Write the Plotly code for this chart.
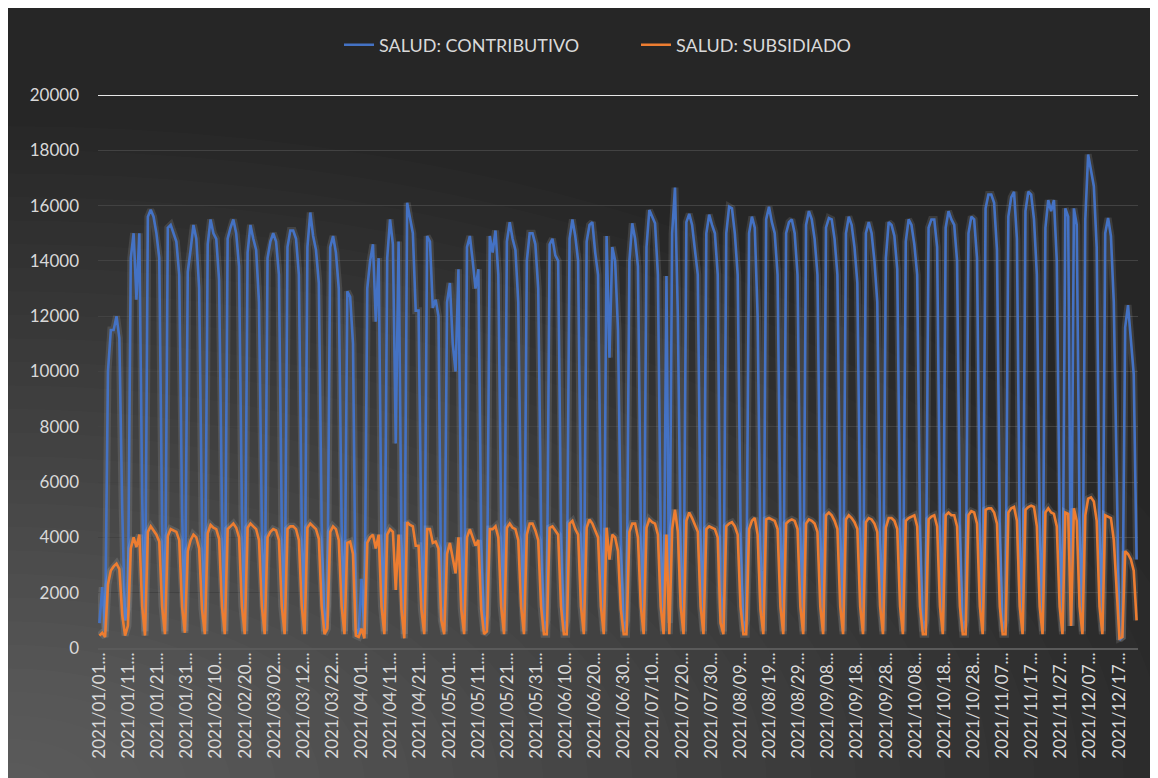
import pandas as pd
import plotly.graph_objects as go

# ---------------- data ----------------
fechas = pd.date_range("2021-01-01", "2021-12-31", freq="D").strftime("%Y/%m/%d").tolist()

contributivo = [
    900, 2200, 600,
    10000, 11500, 11500, 12000, 11200, 5000, 1000,
    1500, 14100, 15000, 12600, 15000, 5500, 600,
    15600, 15850, 15600, 15000, 14100, 4500, 600,
    15200, 15300, 15000, 14700, 13500, 5000, 600,
    13600, 14400, 15300, 14800, 13000, 4500, 600,
    14600, 15500, 15000, 14800, 13300, 5000, 600,
    14800, 15200, 15500, 15000, 13800, 5000, 600,
    14300, 15300, 14800, 14400, 12500, 4500, 600,
    14100, 14700, 15000, 14700, 13500, 4500, 600,
    14500, 15100, 15100, 14800, 13500, 4500, 600,
    14500, 15750, 14900, 14400, 13200, 4500, 600,
    1500, 14500, 14900, 14300, 13000, 4500, 600,
    12900, 12700, 11000, 700, 500, 2500, 500,
    13000, 14000, 14600, 11800, 14100, 4000, 600,
    14100, 15500, 14600, 7400, 14700, 4000, 500,
    16100, 15500, 15000, 12200, 12200, 4000, 600,
    14900, 14700, 12300, 12600, 12000, 1500, 600,
    12500, 13200, 11000, 10000, 13700, 4000, 600,
    14500, 14900, 14000, 13000, 13700, 4000, 600,
    1200, 14900, 14300, 15100, 13500, 4500, 600,
    14700, 15400, 14800, 14400, 12500, 4500, 600,
    14000, 15000, 15000, 14600, 13000, 4500, 600,
    1000, 14600, 14800, 14200, 14000, 4500, 600,
    1000, 14800, 15500, 14900, 14000, 4500, 600,
    14700, 15300, 15400, 14300, 13500, 4500, 600,
    14900, 10500, 14500, 14000, 11500, 4000, 600,
    1000, 14000, 15360, 14800, 13800, 4500, 600,
    14500, 15840, 15600, 15360, 13500, 4000, 600,
    13450, 900, 15000, 16650, 12000, 3500, 600,
    15400, 15700, 15300, 14500, 13500, 4000, 600,
    15000, 15670, 15300, 15000, 13500, 2000, 600,
    15000, 15960, 15900, 15000, 13500, 4500, 600,
    1000, 15000, 15600, 15200, 12000, 3500, 600,
    15500, 15960, 15400, 15000, 13500, 4500, 600,
    15000, 15400, 15500, 15000, 13500, 4500, 600,
    15300, 15800, 15500, 14800, 13500, 4500, 600,
    15200, 15550, 15500, 14800, 13500, 4500, 600,
    15000, 15600, 15300, 14500, 13200, 4500, 600,
    15000, 15400, 15000, 14000, 12500, 4000, 600,
    14100, 15400, 15300, 14900, 13700, 4500, 600,
    14700, 15500, 15300, 14600, 13500, 4500, 600,
    1000, 15200, 15500, 15500, 14500, 4500, 600,
    15200, 15800, 15500, 15300, 14000, 4500, 600,
    1000, 15000, 15600, 15500, 14100, 4500, 600,
    15900, 16400, 16400, 16100, 14400, 4500, 600,
    1000, 15600, 16300, 16500, 14800, 4000, 600,
    15800, 16500, 16400, 15500, 13500, 4500, 600,
    15200, 16200, 15800, 16200, 14000, 4500, 600,
    15900, 15600, 800, 15900, 15300, 4500, 600,
    15500, 17850, 17200, 16700, 14500, 4500, 600,
    15000, 15550, 14900, 12500, 5500, 300, 400,
    11600, 12400, 11100, 9900, 3200,
]

subsidiado = [
    450, 550, 400,
    2300, 2800, 2950, 3050, 2850, 1200, 450,
    800, 3600, 4000, 3650, 4100, 1500, 450,
    4200, 4400, 4250, 4100, 3850, 1500, 500,
    4050, 4300, 4250, 4200, 3900, 1500, 550,
    3500, 3900, 4100, 4000, 3600, 1400, 500,
    4150, 4450, 4350, 4300, 3950, 1500, 500,
    4300, 4400, 4500, 4350, 4000, 1500, 500,
    4350, 4500, 4400, 4300, 3900, 1500, 500,
    4000, 4200, 4300, 4250, 3900, 1500, 500,
    4300, 4400, 4400, 4300, 3900, 1500, 500,
    4350, 4500, 4400, 4300, 3950, 1500, 500,
    700, 4200, 4400, 4300, 3900, 1500, 500,
    3800, 3850, 3400, 450, 400, 700, 350,
    3800, 4000, 4100, 3600, 4100, 1500, 500,
    4100, 4300, 4200, 2100, 4100, 1400, 350,
    4550, 4450, 4400, 3700, 3700, 1400, 500,
    4300, 4300, 3800, 3850, 3600, 1000, 500,
    3400, 3800, 3200, 2700, 4000, 1400, 500,
    4000, 4300, 4000, 3700, 3900, 1400, 500,
    600, 4300, 4300, 4400, 4000, 1500, 500,
    4350, 4500, 4350, 4300, 3900, 1500, 500,
    4100, 4500, 4500, 4250, 3900, 1500, 500,
    500, 4350, 4400, 4250, 4100, 1500, 500,
    500, 4500, 4600, 4300, 4100, 1500, 500,
    4350, 4650, 4500, 4250, 4000, 1500, 500,
    4350, 3200, 4100, 4000, 3500, 1400, 500,
    500, 4200, 4500, 4500, 4000, 1500, 500,
    4350, 4650, 4550, 4500, 4100, 1500, 500,
    4100, 500, 4300, 5000, 4200, 1500, 500,
    4600, 4900, 4700, 4450, 4200, 1500, 500,
    4300, 4400, 4350, 4300, 4000, 900, 500,
    4400, 4500, 4550, 4400, 4100, 1500, 500,
    500, 4300, 4600, 4700, 4100, 1400, 500,
    4650, 4700, 4650, 4600, 4300, 1500, 500,
    4500, 4600, 4650, 4600, 4300, 1500, 500,
    4500, 4650, 4600, 4500, 4200, 1500, 500,
    4800, 4900, 4800, 4600, 4300, 1500, 500,
    4650, 4800, 4700, 4550, 4300, 1500, 500,
    4550, 4700, 4650, 4500, 4200, 1500, 500,
    4350, 4700, 4700, 4600, 4300, 1500, 500,
    4600, 4700, 4750, 4800, 4400, 1500, 500,
    500, 4650, 4750, 4800, 4400, 1500, 500,
    4800, 4900, 4800, 4800, 4400, 1500, 500,
    500, 4800, 4950, 4900, 4500, 1500, 500,
    5000, 5050, 5050, 4900, 4500, 1500, 500,
    500, 4900, 5050, 5100, 4600, 1500, 500,
    5000, 5100, 5150, 5100, 4400, 1500, 500,
    4900, 5050, 4900, 4850, 4400, 1500, 500,
    4900, 4850, 800, 5050, 4600, 1500, 500,
    4800, 5400, 5450, 5300, 4600, 1500, 500,
    4800, 4750, 4700, 3900, 2000, 350, 400,
    3500, 3400, 3200, 2800, 1000,
]

series = ["SALUD: CONTRIBUTIVO", "SALUD: SUBSIDIADO"]
colores = ["#4472C4", "#ED7D31"]
ticks_y = [0, 2000, 4000, 6000, 8000, 10000, 12000, 14000, 16000, 18000, 20000]
# category labels as they appear under the reference axis (every 10th of 357)
etiquetas = pd.date_range("2021-01-01", periods=357, freq="D").strftime("%Y/%m/%d").tolist()
pos_x = list(range(0, len(etiquetas), 10))
texto_x = [etiquetas[i] + "..." for i in pos_x]

# ---------------- layout geometry (figure pixels) ----------------
W, H = 1158, 778
ML, MR, MT, MB = 90, 28, 87, 138
PW, PH = W - ML - MR, H - MT - MB
FONT = "Lato, 'Open Sans', sans-serif"
TXT = "#d9d9d9"


def paper(px, py):
    return (px - ML) / PW, (H - MB - py) / PH


fig = go.Figure()
for vals, nombre, color in zip([contributivo, subsidiado], series, colores):
    fig.add_trace(go.Scatter(
        x=fechas, y=vals, mode="lines", showlegend=False, hoverinfo="skip",
        line=dict(color="rgba(255,255,255,0.11)", width=7),
    ))
    fig.add_trace(go.Scatter(
        x=fechas, y=vals, mode="lines", name=nombre,
        line=dict(color=color, width=2.6),
    ))
# empty carrier so that the label axis is drawn (no visible marks)
fig.add_trace(go.Scatter(x=pos_x, y=[None] * len(pos_x), xaxis="x2", mode="lines",
                         showlegend=False, hoverinfo="skip"))

shapes = []
# soft radial lightening towards the bottom-left corner
N = 28
for k in range(N):
    f = 1 - k / N
    rx, ry = 1250 * f, 660 * f
    ex0, ey1 = paper(-rx, H - ry)
    ex1, ey0 = paper(rx, H + ry)
    shapes.append(dict(type="circle", xref="paper", yref="paper", x0=ex0, x1=ex1,
                       y0=ey0, y1=ey1, fillcolor="rgba(255,255,255,0.012)",
                       line_width=0, layer="below"))
# bright top gridline
shapes.append(dict(type="line", xref="paper", yref="y", x0=0, x1=1, y0=20000, y1=20000,
                   line=dict(color="#e6e6e6", width=2), layer="above"))

lx, ly = paper(331, 37)
fig.update_layout(
    width=W, height=H,
    margin=dict(l=ML, r=MR, t=MT, b=MB),
    paper_bgcolor="#262626",
    plot_bgcolor="rgba(0,0,0,0)",
    font=dict(family=FONT, color=TXT, size=18),
    shapes=shapes,
    showlegend=True,
    legend=dict(orientation="h", x=lx, xanchor="left", y=ly, yanchor="middle",
                font=dict(family=FONT, color=TXT, size=18),
                bgcolor="rgba(0,0,0,0)", entrywidth=252, entrywidthmode="pixels"),
    xaxis=dict(type="category", range=[-0.5, len(fechas) - 0.5],
               showticklabels=False, showgrid=False, zeroline=False, ticks="",
               showline=True, linecolor="#5a5a5a", linewidth=1.5),
    xaxis2=dict(overlaying="x", anchor="y", side="bottom",
                range=[-0.5, len(etiquetas) - 0.5],
                tickmode="array", tickvals=pos_x, ticktext=texto_x,
                tickangle=-90, tickfont=dict(family=FONT, color=TXT, size=17),
                showgrid=False, zeroline=False, ticks="", showline=False),
    yaxis=dict(range=[0, 20000], tickmode="array", tickvals=ticks_y, tickformat="d",
               tickfont=dict(family=FONT, color=TXT, size=17),
               showgrid=True, gridcolor="#424242", gridwidth=1,
               zeroline=False, showline=False, ticks="", ticklabelstandoff=18),
)

fig.write_html("out.html")
